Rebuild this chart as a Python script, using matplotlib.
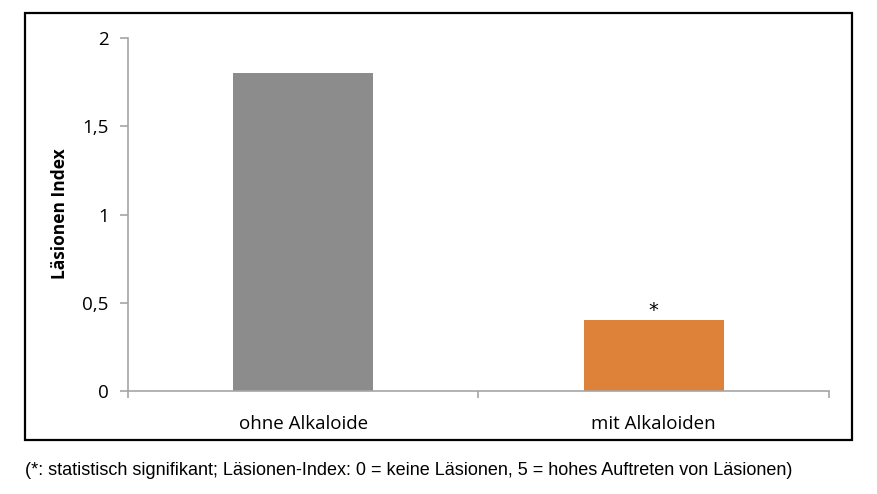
import matplotlib
matplotlib.use("Agg")
import matplotlib.pyplot as plt
from matplotlib.patches import Rectangle

categories = ["ohne Alkaloide", "mit Alkaloiden"]
values = [1.8, 0.4]
colors = ["#8c8c8c", "#df8239"]
yticks = [0, 0.5, 1, 1.5, 2]
ytick_labels = ["0", "0,5", "1", "1,5", "2"]
ylabel = "Läsionen Index"
caption = "(*: statistisch signifikant; Läsionen-Index: 0 = keine Läsionen, 5 = hohes Auftreten von Läsionen)"
marks = ["", "*"]

fig = plt.figure(figsize=(8.78, 4.94), dpi=100)
fig.patches.append(Rectangle((25/878, 1-440/494), (852-25)/878, (440-13)/494,
                             transform=fig.transFigure, fill=False, edgecolor="black",
                             linewidth=1.6, zorder=0))
ax = fig.add_axes([128/878, 1-391/494, (829-128)/878, (391-38)/494])
x = list(range(len(categories)))
ax.bar(x, values, width=0.4, color=colors, zorder=2)
for xi, v, m in zip(x, values, marks):
    if m:
        ax.text(xi, v + 0.005, m, ha="center", va="bottom", fontsize=14, family="DejaVu Sans")
ax.set_xlim(-0.5, 1.5)
ax.set_ylim(0, 2)
ax.set_yticks(yticks)
ax.set_yticklabels(ytick_labels, family="Open Sans", fontsize=13.5)
ax.set_xticks(x)
ax.set_xticklabels(categories, family="Open Sans", fontsize=13.5)
ax.tick_params(axis="x", length=0, pad=17)
ax.set_xticks([-0.5, 0.5, 1.5], minor=True)
ax.tick_params(axis="x", which="minor", length=5, color="#a6a6a6", width=1.2)
ax.tick_params(axis="y", length=6, color="#a6a6a6", width=1.2, pad=8)
for s in ["top", "right"]:
    ax.spines[s].set_visible(False)
for s in ["left", "bottom"]:
    ax.spines[s].set_color("#a6a6a6")
    ax.spines[s].set_linewidth(1.2)
ax.set_ylabel(ylabel, fontsize=12.5, fontweight="bold", family="Open Sans")
ax.yaxis.set_label_coords(-(128-69)/701, 0.5 + (215-214.5)/353)
fig.text(25/878, 1-470/494, caption, fontsize=13, family="Liberation Sans", va="center", ha="left")
fig.savefig("out.png", dpi=100)
